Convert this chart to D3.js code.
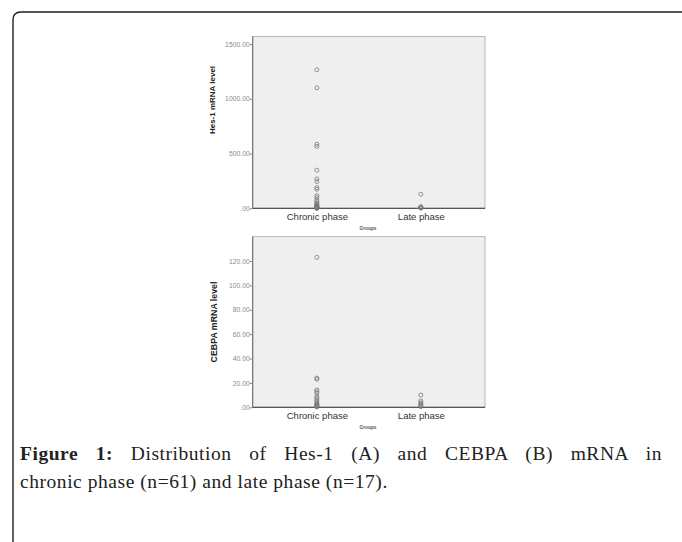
<!DOCTYPE html>
<html>
<head>
<meta charset="utf-8">
<script src="https://cdn.jsdelivr.net/npm/d3@7"></script>
<style>
  body { margin: 0; background: #fff; }
  #wrap { position: relative; width: 682px; height: 542px; overflow: hidden; }
  #caption {
    position: absolute; left: 20px; top: 440px; width: 642px;
    font-family: "Liberation Serif", serif; font-size: 19.5px; line-height: 28px;
    letter-spacing: 0.55px; color: #222;
  }
  #caption .l1 { text-align: justify; text-align-last: justify; }
  #caption b { font-weight: bold; }
</style>
</head>
<body>
<div id="wrap">
  <svg id="chart" width="682" height="542"></svg>
  <div id="caption">
    <div class="l1"><b>Figure 1:</b> Distribution of Hes-1 (A) and CEBPA (B) mRNA in</div>
    <div>chronic phase (n=61) and late phase (n=17).</div>
  </div>
</div>
<script>
// groups on the x axis
let groups = ["Chronic phase", "Late phase"];

// Hes-1 values
let hesChronic = [1265, 1100, 585, 565, 348, 268, 244, 189, 174, 116, 98, 76, 60, 46, 38, 30, 24, 18, 15, 12, 10, 8, 6, 5, 4, 3, 2, 1];
let hesLate = [128, 15, 8, 6, 4, 2];
let hesTicks = [0, 500, 1000, 1500];

// CEBPA values
let cebChronic = [123, 24, 23, 14.2, 12.9, 11.5, 8.8, 7.4, 6, 4.7, 3.3, 2.5, 2, 1.5, 1, 0.6, 0.3];
let cebLate = [10.1, 5.2, 3.8, 2.7, 1.9, 1.1, 0.5];
let cebTicks = [0, 20, 40, 60, 80, 100, 120];

let svg = d3.select("#chart");

// outer frame, open to the right and bottom
svg.append("path")
    .attr("d", "M13,542 L13,20 Q13,12 21,12 L682,12")
    .attr("fill", "none")
    .attr("stroke", "#222")
    .attr("stroke-width", 1.4);

function drawPanel(cfg) {
    let x = d3.scalePoint().domain(groups).range([252.7, 485]).padding(0.617);
    let y = d3.scaleLinear().domain([0, cfg.tickMax]).range([cfg.bottom, cfg.tickTop]);
    let top = y(cfg.domTop);

    let g = svg.append("g");

    g.append("rect")
        .attr("x", 252.7).attr("y", top)
        .attr("width", 485 - 252.7).attr("height", cfg.bottom - top)
        .attr("fill", "#efefef")
        .attr("stroke", "#b5b5b5")
        .attr("stroke-width", 1);

    // y axis
    let yAxis = d3.axisLeft(y).tickValues(cfg.ticks).tickSize(3)
        .tickFormat(d => d === 0 ? ".00" : d.toFixed(2));
    let ya = g.append("g").attr("transform", "translate(252.7,0)").call(yAxis);
    ya.select(".domain").attr("stroke", "#666").attr("d", "M0," + top + "V" + cfg.bottom);
    ya.selectAll(".tick line").attr("stroke", "#888");
    ya.selectAll(".tick text")
        .attr("fill", "#8a8a8a")
        .attr("font-family", "Liberation Sans, Arial, sans-serif")
        .attr("font-size", 6.8)
        .attr("x", -3);

    // x axis
    let xAxis = d3.axisBottom(x).tickSize(0).tickPadding(5);
    let xa = g.append("g").attr("transform", "translate(0," + cfg.bottom + ")").call(xAxis);
    xa.select(".domain").attr("stroke", "#555").attr("stroke-width", 1.2).attr("d", "M252.7,0H485");
    xa.selectAll(".tick text")
        .attr("fill", "#333")
        .attr("font-family", "Liberation Sans, Arial, sans-serif")
        .attr("font-size", 9.5);

    g.append("text")
        .attr("x", 368).attr("y", cfg.bottom + 22)
        .attr("text-anchor", "middle")
        .attr("font-family", "Liberation Sans, Arial, sans-serif")
        .attr("font-size", 4.8)
        .attr("font-weight", "bold")
        .attr("fill", "#555")
        .text("Groups");

    g.append("text")
        .attr("transform", "translate(" + cfg.labelX + "," + cfg.labelY + ") rotate(-90)")
        .attr("text-anchor", "middle")
        .attr("font-family", "Liberation Sans, Arial, sans-serif")
        .attr("font-size", cfg.labelSize)
        .attr("font-weight", "bold")
        .attr("fill", "#222")
        .text(cfg.label);

    let pts = [];
    cfg.series.forEach((vals, i) => vals.forEach(v => pts.push({ g: groups[i], v: v })));

    g.selectAll("circle.pt").data(pts).join("circle")
        .attr("class", "pt")
        .attr("cx", d => x(d.g))
        .attr("cy", d => y(d.v))
        .attr("r", 2)
        .attr("fill", "none")
        .attr("stroke", "#777")
        .attr("stroke-width", 0.8);
}

drawPanel({
    series: [hesChronic, hesLate], ticks: hesTicks,
    tickMax: 1500, bottom: 208.3, tickTop: 44, domTop: 1568,
    label: "Hes-1 mRNA level", labelX: 215, labelY: 100, labelSize: 8
});

drawPanel({
    series: [cebChronic, cebLate], ticks: cebTicks,
    tickMax: 120, bottom: 407.3, tickTop: 261, domTop: 140,
    label: "CEBPA mRNA level", labelX: 217, labelY: 322, labelSize: 8.8
});
</script>
</body>
</html>
